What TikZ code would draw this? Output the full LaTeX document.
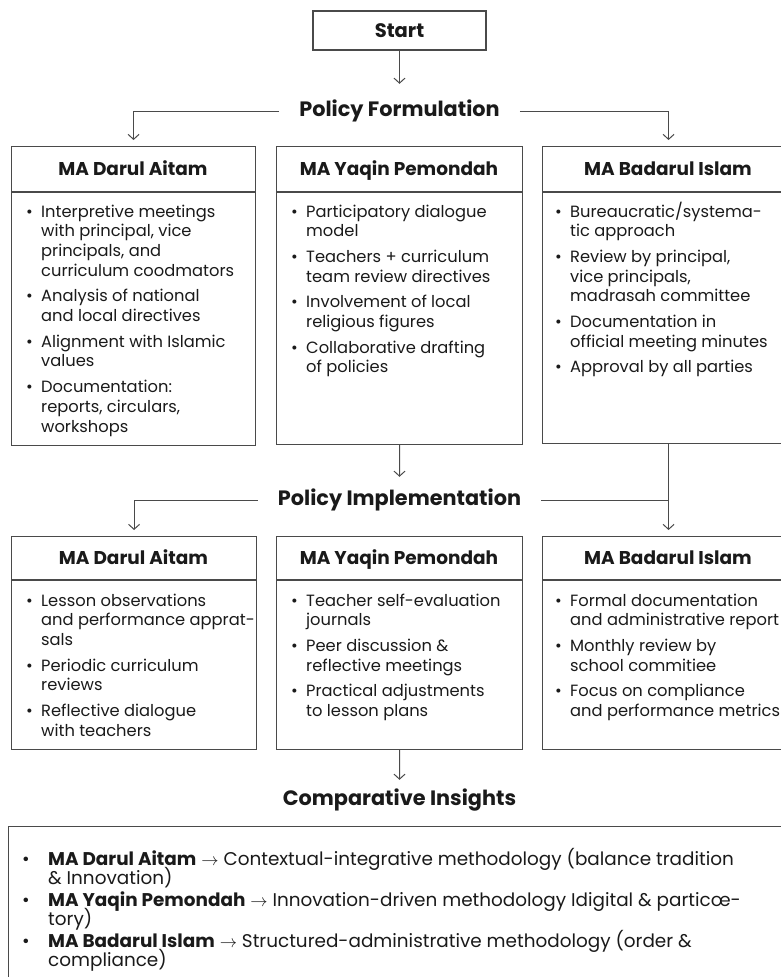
\documentclass[tikz,border=0pt]{standalone}
\usepackage{fontspec}
\setmainfont{Poppins}
\usetikzlibrary{arrows.meta}
\definecolor{linec}{HTML}{4A4A4A}
\definecolor{textc}{HTML}{1A1A1A}
\newcommand{\bl}{\makebox[15pt][l]{\textbullet}}
\newcommand{\ind}{\hspace*{15pt}}
\newcommand{\blb}{\makebox[26pt][l]{\textbullet}}
\newcommand{\indb}{\hspace*{26pt}}
\begin{document}
\begin{tikzpicture}[x=1pt,y=-1pt,
 box/.style={draw=linec, line width=1.1pt, inner sep=0pt, anchor=north west},
 conn/.style={draw=linec, line width=1pt},
 arr/.style={conn, -{Straight Barb[length=5pt,width=11pt]}},
 title/.style={font=\bfseries\fontsize{20.8}{24}\selectfont, text=textc, inner xsep=20pt, inner ysep=0pt},
 head/.style={font=\bfseries\fontsize{18.5}{22}\selectfont, text=textc, inner sep=0pt, anchor=base},
 body/.style={font={\fontsize{16.3}{19.7}\selectfont\lineskiplimit=-50pt\lineskip=0pt}, text=textc, inner sep=0pt, anchor=base west, align=left},
 bottomtxt/.style={font={\fontsize{18.4}{19}\selectfont\lineskiplimit=-50pt\lineskip=0pt}, text=textc, inner sep=0pt, anchor=base west, align=left},
]
\clip (0,0) rectangle (781,977);
\fill[white] (0,0) rectangle (781,977);

% start
\node[draw=linec, line width=1.1pt, minimum width=173pt, minimum height=39pt, inner sep=0pt,
      font=\bfseries\fontsize{19.5}{22}\selectfont, text=textc] (start) at (399.5,30.5) {Start};

% section titles
\node[title, minimum height=54pt] (pf) at (399.5,111) {Policy Formulation};
\node[title, minimum height=46pt] (pi) at (399.5,500) {Policy Implementation};
\node[title, minimum height=40pt] (ci) at (399.5,800) {Comparative Insights};

% row 1 boxes
\node[box, minimum width=244pt, minimum height=299pt] (b1) at (11,146) {};
\node[box, minimum width=246pt, minimum height=298pt] (b2) at (276,146) {};
\node[box, minimum width=252pt, minimum height=297pt] (b3) at (542,146) {};
\foreach \b in {b1,b2,b3}{
  \draw[conn, line width=1.1pt] ([yshift=-46pt]\b.north west) -- ([yshift=-46pt]\b.north east);
}
\node[head] (h1) at (133,175.5) {MA Darul Aitam};
\node[head] (h2) at (399,175.5) {MA Yaqin Pemondah};
\node[head] (h3) at (668,175.5) {MA Badarul Islam};

% (anchor = baseline of the last line)
\node[body] (t1) at (26,432) {%
\bl Interpretive meetings\\
\ind with principal, vice\\
\ind principals, and\\
\ind curriculum coodmators\\[6pt]
\bl Analysis of national\\
\ind and local directives\\[6pt]
\bl Alignment with Islamic\\
\ind values\\[6pt]
\bl Documentation:\\
\ind reports, circulars,\\
\ind workshops};

\node[body] (t2) at (291,372.9) {%
\bl Participatory dialogue\\
\ind model\\[6pt]
\bl Teachers + curriculum\\
\ind team review directives\\[6pt]
\bl Involvement of local\\
\ind religious figures\\[6pt]
\bl Collaborative drafting\\
\ind of policies};

\node[body] (t3) at (555,372.9) {%
\bl Bureaucratic/systema-\\
\ind tic approach\\[6pt]
\bl Review by principal,\\
\ind vice principals,\\
\ind madrasah committee\\[6pt]
\bl Documentation in\\
\ind official meeting minutes\\[6pt]
\bl Approval by all parties};

% row 2 boxes
\node[box, minimum width=245pt, minimum height=213pt] (b4) at (11,536) {};
\node[box, minimum width=246pt, minimum height=213pt] (b5) at (276,536) {};
\node[box, minimum width=252pt, minimum height=213pt] (b6) at (542,536) {};
\foreach \b in {b4,b5,b6}{
  \draw[conn, line width=1.1pt] ([yshift=-44pt]\b.north west) -- ([yshift=-44pt]\b.north east);
}
\node[head] (h4) at (133.5,564.5) {MA Darul Aitam};
\node[head] (h5) at (399,564.5) {MA Yaqin Pemondah};
\node[head] (h6) at (668,564.5) {MA Badarul Islam};

\node[body] (t4) at (26,736.2) {%
\bl Lesson observations\\
\ind and performance apprat-\\
\ind sals\\[6pt]
\bl Periodic curriculum\\
\ind reviews\\[6pt]
\bl Reflective dialogue\\
\ind with teachers};

\node[body] (t5) at (291,716.5) {%
\bl Teacher self-evaluation\\
\ind journals\\[6pt]
\bl Peer discussion \&\\
\ind reflective meetings\\[6pt]
\bl Practical adjustments\\
\ind to lesson plans};

\node[body] (t6) at (555,716.5) {%
\bl Formal documentation\\
\ind and administrative report\\[6pt]
\bl Monthly review by\\
\ind school commitiee\\[6pt]
\bl Focus on compliance\\
\ind and performance metrics};

% bottom box
\node[box, minimum width=800pt, minimum height=200pt] (b7) at (8,826) {};
\node[bottomtxt] (t7) at (22,966) {%
\blb\textbf{MA Darul Aitam} $\rightarrow$ Contextual-integrative methodology (balance tradition\\
\indb\& Innovation)\\[3pt]
\blb\textbf{MA Yaqin Pemondah} $\rightarrow$ Innovation-driven methodology Idigital \& particœ-\\
\indb tory)\\[3pt]
\blb\textbf{MA Badarul Islam} $\rightarrow$ Structured-administrative methodology (order \&\\
\indb compliance)};

% connectors
\draw[arr] (start) -- (pf);
\draw[arr, shorten >=6pt] (pf.west) -| (b1.north);
\draw[arr, shorten >=6pt] (pf.east) -| (b3.north);
\draw[arr] (b2) -- (pi);
\draw[arr, shorten >=6pt] (pi.west) -| (b4.north);
\draw[conn] (pi.east) -- (pi.east -| b3.south);
\draw[arr, shorten >=6pt] (b3.south) -- (b6.north);
\draw[arr] (b5) -- (ci);
\end{tikzpicture}
\end{document}
